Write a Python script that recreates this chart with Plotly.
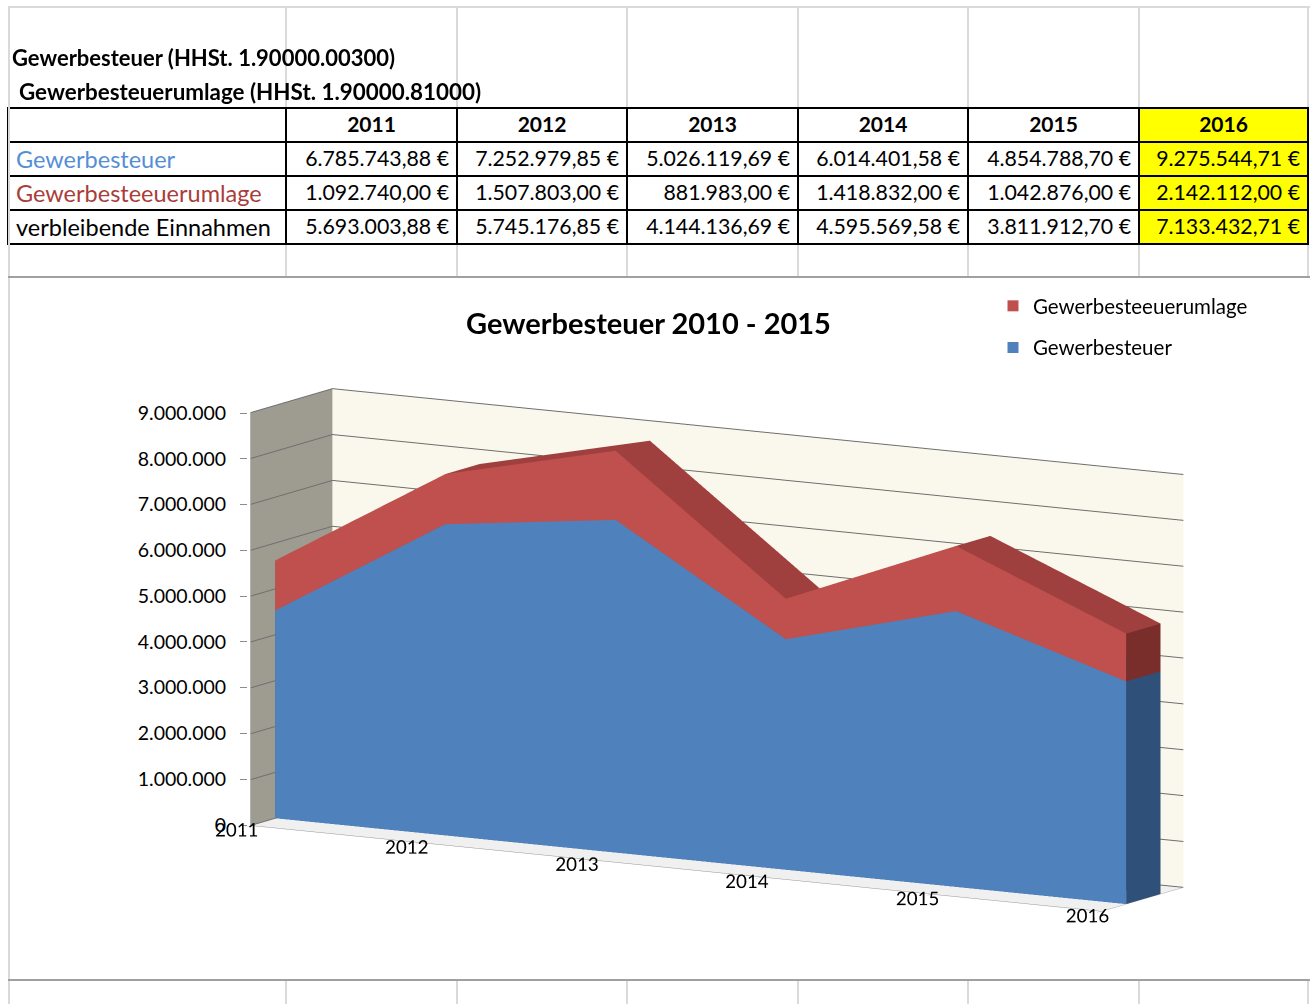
import math
import plotly.graph_objects as go

# ---------------- data ----------------
table_years = ["2011", "2012", "2013", "2014", "2015", "2016"]
row_labels = ["Gewerbesteuer", "Gewerbesteeuerumlage", "verbleibende Einnahmen"]
gewerbesteuer = [6785743.88, 7252979.85, 5026119.69, 6014401.58, 4854788.70, 9275544.71]
umlage = [1092740.00, 1507803.00, 881983.00, 1418832.00, 1042876.00, 2142112.00]
verbleibend = [5693003.88, 5745176.85, 4144136.69, 4595569.58, 3811912.70, 7133432.71]

chart_categories = ["2011", "2012", "2013", "2014", "2015", "2016"]
chart_gewerbesteuer = [4530000, 6785743.88, 7252979.85, 5026119.69, 6014401.58, 4854788.70]
chart_umlage = [1090000, 1092740.00, 1507803.00, 881983.00, 1418832.00, 1042876.00]
z_ticks = [0, 1000000, 2000000, 3000000, 4000000, 5000000, 6000000, 7000000, 8000000, 9000000]

FONT = "Lato"
W, H = 1310, 1004


def eur(v):
    s = f"{v:,.2f}".replace(",", "X").replace(".", ",").replace("X", ".")
    return s + " €"


fig = go.Figure()

# ---------------- table ----------------
col_px = [278, 171, 170, 171, 170, 171, 169]
header_vals = [""] + table_years
cell_vals = [row_labels] + [[eur(gewerbesteuer[i]), eur(umlage[i]), eur(verbleibend[i])] for i in range(6)]
label_colors = ["rgb(85,142,213)", "rgb(170,60,58)", "black"]
font_colors = [label_colors] + [["black"] * 3 for _ in range(6)]
fills = ["white"] * 6 + ["#FFFF00"]

fig.add_trace(go.Table(
    domain=dict(x=[8 / W, 1308 / W], y=[1 - 256 / H, 1 - 108 / H]),
    columnwidth=col_px,
    header=dict(values=header_vals, fill_color=fills, align="center",
                line=dict(color="black", width=2), height=34,
                font=dict(family=FONT, size=21, color="black", weight="bold")),
    cells=dict(values=cell_vals, fill_color=fills, align=["left"] + ["right"] * 6,
               line=dict(color="black", width=2), height=34,
               font=dict(family=FONT, size=[23.5] + [21.3] * 6, color=font_colors)),
))

# ---------------- 3D stacked area ----------------
xs = list(range(len(chart_categories)))
lo_blue = [0] * len(xs)
hi_blue = chart_gewerbesteuer
lo_red = chart_gewerbesteuer
hi_red = [a + b for a, b in zip(chart_gewerbesteuer, chart_umlage)]
Y0, Y1 = 0.30, 0.72


def slab(lo, hi, c_front, c_top, c_cap):
    X, Yv, Z, I, J, K, FC = [], [], [], [], [], [], []

    def quad(p, col):
        n = len(X)
        for (a, b, c) in p:
            X.append(a); Yv.append(b); Z.append(c)
        I.extend([n, n]); J.extend([n + 1, n + 2]); K.extend([n + 2, n + 3])
        FC.extend([col, col])

    for i in range(len(xs) - 1):
        x0, x1 = xs[i], xs[i + 1]
        quad([(x0, Y0, lo[i]), (x1, Y0, lo[i + 1]), (x1, Y0, hi[i + 1]), (x0, Y0, hi[i])], c_front)
        quad([(x0, Y1, lo[i]), (x1, Y1, lo[i + 1]), (x1, Y1, hi[i + 1]), (x0, Y1, hi[i])], c_front)
        quad([(x0, Y0, hi[i]), (x1, Y0, hi[i + 1]), (x1, Y1, hi[i + 1]), (x0, Y1, hi[i])], c_top)
    for i in (0, len(xs) - 1):
        quad([(xs[i], Y0, lo[i]), (xs[i], Y1, lo[i]), (xs[i], Y1, hi[i]), (xs[i], Y0, hi[i])], c_cap)
    return X, Yv, Z, I, J, K, FC


light = dict(ambient=1, diffuse=0, specular=0, roughness=1, fresnel=0)
for lo, hi, cf, ct, cc in [
    (lo_blue, hi_blue, "rgb(79,129,189)", "rgb(60,100,150)", "rgb(47,80,120)"),
    (lo_red, hi_red, "rgb(192,80,77)", "rgb(160,64,62)", "rgb(122,46,44)"),
]:
    X, Yv, Z, I, J, K, FC = slab(lo, hi, cf, ct, cc)
    fig.add_trace(go.Mesh3d(x=X, y=Yv, z=Z, i=I, j=J, k=K, facecolor=FC, flatshading=True,
                            lighting=light, hoverinfo="skip", showlegend=False, scene="scene"))

# legend entries (2D, they also carry the value axis drawn in front of the left wall)
for name, col in [("Gewerbesteeuerumlage", "rgb(192,80,77)"), ("Gewerbesteuer", "rgb(79,129,189)")]:
    fig.add_trace(go.Scatter(x=[None], y=[None], mode="markers", name=name, legendgroup=name,
                             marker=dict(symbol="square", size=11, color=col),
                             hoverinfo="skip", xaxis="x", yaxis="y"))

# camera from angles
theta = math.radians(30.4)
phi = math.radians(9.9)
D = 1.65
eye = dict(x=D * math.cos(phi) * math.sin(theta), y=-D * math.cos(phi) * math.cos(theta), z=D * math.sin(phi))

axis_common = dict(title=dict(text=""), showspikes=False, zeroline=False, tickangle=0)

fig.update_layout(
    width=W, height=H, margin=dict(l=0, r=0, t=0, b=0, autoexpand=False),
    paper_bgcolor="white", plot_bgcolor="rgba(0,0,0,0)", separators=",.",
    font=dict(family=FONT, color="black"),
    showlegend=True,
    legend=dict(x=993 / W, y=1 - 286 / H, xanchor="left", yanchor="top",
                font=dict(family=FONT, size=20.5), tracegroupgap=12, traceorder="grouped",
                bgcolor="rgba(0,0,0,0)"),
    xaxis=dict(domain=[248 / W, 250 / W], range=[0, 1], visible=False, fixedrange=True,
               automargin=False),
    yaxis=dict(domain=[1 - 825 / H, 1 - 413 / H], range=[0, 9000000], tickvals=z_ticks,
               tickformat=",d", ticks="outside", ticklen=7, tickcolor="rgb(140,140,140)",
               tickwidth=1, ticklabelstandoff=10, showline=False, showgrid=False,
               zeroline=False, fixedrange=True, automargin=False,
               tickfont=dict(family=FONT, size=19.5, color="black")),
    scene=dict(
        domain=dict(x=[157 / W, 1277 / W], y=[1 - 980 / H, 1 - 320 / H]),
        aspectmode="manual", aspectratio=dict(x=2.99, y=0.49, z=1.27),
        camera=dict(eye=eye, up=dict(x=0, y=0, z=1), center=dict(x=0, y=0, z=0),
                    projection=dict(type="orthographic")),
        bgcolor="rgba(0,0,0,0)",
        xaxis=dict(range=[0, 5], tickvals=xs, ticktext=chart_categories, showgrid=False,
                   showbackground=True, backgroundcolor="rgb(158,155,145)",
                   showline=True, linecolor="rgb(150,150,150)", ticks="outside", ticklen=6,
                   tickcolor="rgb(150,150,150)",
                   tickfont=dict(family=FONT, size=15, color="black"), **axis_common),
        yaxis=dict(range=[0, 1], showticklabels=False, ticks="", showgrid=False,
                   showbackground=True, backgroundcolor="rgb(250,248,236)",
                   showline=True, linecolor="rgb(170,170,170)", **axis_common),
        zaxis=dict(range=[0, 9000000], tickvals=z_ticks, showticklabels=False, showgrid=True,
                   gridcolor="rgb(110,110,110)", showbackground=True,
                   backgroundcolor="rgb(240,240,240)", showline=True,
                   linecolor="rgb(150,150,150)", ticks="", **axis_common),
    ),
)

# ---------------- text ----------------
fig.add_annotation(text="<b>Gewerbesteuer (HHSt. 1.90000.00300)</b>", x=10 / W, y=1 - 58 / H,
                   xref="paper", yref="paper", xanchor="left", yanchor="middle", showarrow=False,
                   font=dict(family=FONT, size=22, color="black"))
fig.add_annotation(text="<b>Gewerbesteuerumlage (HHSt. 1.90000.81000)</b>", x=17 / W, y=1 - 91 / H,
                   xref="paper", yref="paper", xanchor="left", yanchor="middle", showarrow=False,
                   font=dict(family=FONT, size=22.4, color="black"))
fig.add_annotation(text="<b>Gewerbesteuer 2010 - 2015</b>", x=648 / W, y=1 - 323 / H,
                   xref="paper", yref="paper", xanchor="center", yanchor="middle", showarrow=False,
                   font=dict(family=FONT, size=29, color="black"))

# ---------------- spreadsheet grid (decoration) ----------------
grid = "rgb(218,218,218)"
col_edges = [286, 457, 627, 798, 968, 1139]
shapes = []
for xe in col_edges + [1308]:
    shapes.append(dict(type="line", xref="paper", yref="paper", x0=xe / W, x1=xe / W,
                       y0=1 - 8 / H, y1=1 - 107 / H, line=dict(color=grid, width=2)))
    shapes.append(dict(type="line", xref="paper", yref="paper", x0=xe / W, x1=xe / W,
                       y0=1 - 245 / H, y1=1 - 276 / H, line=dict(color=grid, width=2)))
    shapes.append(dict(type="line", xref="paper", yref="paper", x0=xe / W, x1=xe / W,
                       y0=1 - 981 / H, y1=0, line=dict(color=grid, width=2)))
shapes.append(dict(type="line", xref="paper", yref="paper", x0=8 / W, x1=1, y0=1 - 7 / H, y1=1 - 7 / H,
                   line=dict(color=grid, width=2)))
shapes.append(dict(type="line", xref="paper", yref="paper", x0=9 / W, x1=9 / W, y0=1 - 7 / H, y1=0,
                   line=dict(color=grid, width=2)))
shapes.append(dict(type="line", xref="paper", yref="paper", x0=8 / W, x1=1, y0=1 - 277 / H, y1=1 - 277 / H,
                   line=dict(color="rgb(160,160,160)", width=2)))
shapes.append(dict(type="line", xref="paper", yref="paper", x0=8 / W, x1=1, y0=1 - 980 / H, y1=1 - 980 / H,
                   line=dict(color="rgb(160,160,160)", width=2)))
fig.update_layout(shapes=shapes)

fig.write_html("out.html", config={"displayModeBar": False},
               post_script="document.body.style.margin='0';")
